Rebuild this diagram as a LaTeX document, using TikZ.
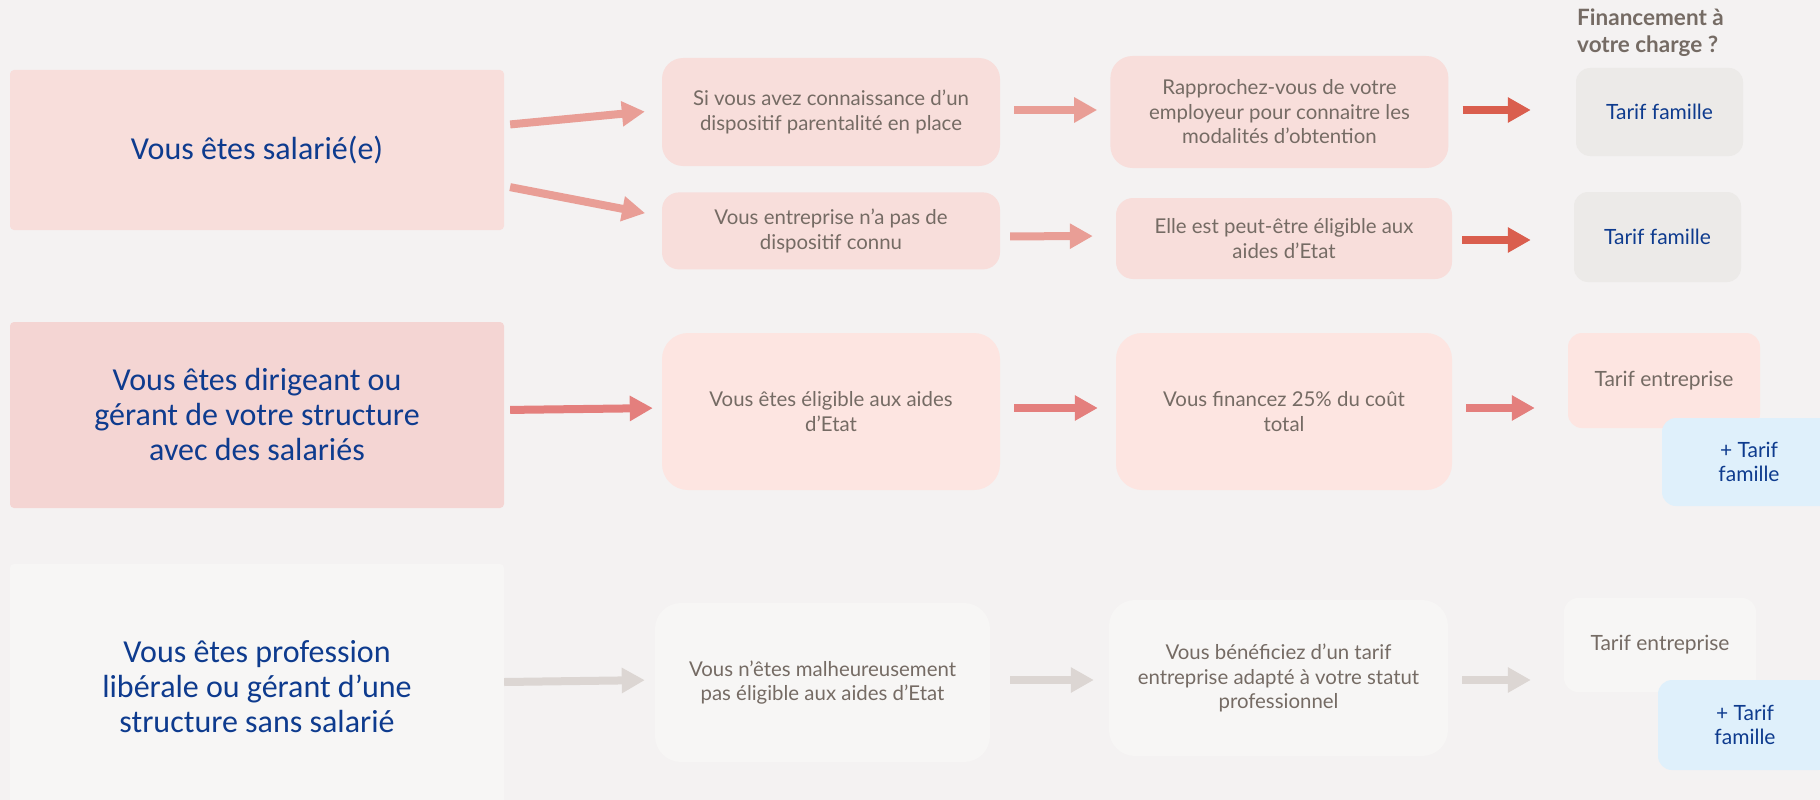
\documentclass[tikz,border=0pt]{standalone}
\usepackage{fontspec}
\setmainfont{Lato}
\newfontfamily\calibri{Carlito}
\usetikzlibrary{arrows.meta,positioning}

\definecolor{fond}{HTML}{F4F2F2}
\definecolor{roseA}{HTML}{F8DEDB}
\definecolor{roseB}{HTML}{F4D5D3}
\definecolor{saumon}{HTML}{FDE5E1}
\definecolor{blanc}{HTML}{F7F6F5}
\definecolor{grisD}{HTML}{ECEAE8}
\definecolor{bleuC}{HTML}{DFF0FB}
\definecolor{bleuT}{HTML}{0E3B8E}
\definecolor{grisT}{HTML}{756B64}
\definecolor{flecheA}{HTML}{E99E96}
\definecolor{flecheB}{HTML}{DA5E4E}
\definecolor{flecheC}{HTML}{E47F7D}
\definecolor{flecheD}{HTML}{DCD6D3}

\begin{document}
\begin{tikzpicture}[
    x=1pt, y=-1pt,
    % styles communs
    statut/.style={rectangle, rounded corners=4pt, minimum width=494pt, inner sep=0pt, align=center, text=bleuT, font=\calibri\fontsize{32}{35}\selectfont},
    etape/.style={rectangle, minimum width=338pt, inner sep=0pt, align=center, text=grisT, font=\fontsize{20.4}{24.5}\selectfont},
    tarif/.style={rectangle, rounded corners=14pt, inner sep=0pt, align=center, font=\fontsize{21}{24.5}\selectfont},
    fleche/.style={line width=8pt, -{Triangle[length=23pt,width=24pt]}}
]
    % fond de la diapositive
    \fill[fond] (0,0) rectangle (1820,800);
    \useasboundingbox (0,0) rectangle (1820,800);

    % --- 1. Statuts (colonne de gauche) ---
    \node[statut, fill=roseA, minimum height=160pt] (salarie) at (257,150) {Vous êtes salarié(e)};
    \node[statut, fill=roseB, minimum height=186pt] (dirigeant) at (257,415) {Vous êtes dirigeant ou\\gérant de votre structure\\avec des salariés};
    \node[statut, fill=blanc, minimum height=246pt] (liberal) at (257,687) {Vous êtes profession\\libérale ou gérant d’une\\structure sans salarié};

    % --- 2. Étapes ---
    % salarié(e)
    \node[etape, fill=roseA, rounded corners=21pt, minimum height=108pt] (connu) at (831,112) {Si vous avez connaissance d’un\\dispositif parentalité en place};
    \node[etape, fill=roseA, rounded corners=17pt, minimum height=77pt, below=26pt of connu] (inconnu) {Vous entreprise n’a pas de\\dispositif connu};
    \node[etape, fill=roseA, rounded corners=22pt, minimum height=112pt, right=110pt of connu] (employeur) {Rapprochez-vous de votre\\employeur pour connaitre les\\modalités d’obtention};
    \node[etape, fill=roseA, rounded corners=17pt, minimum width=336pt, minimum height=81pt] (eligible) at (1284,238.5) {Elle est peut-être éligible aux\\aides d’Etat};

    % dirigeant
    \node[etape, fill=saumon, rounded corners=26pt, minimum height=157pt] (aides) at (831,411.5) {Vous êtes éligible aux aides\\d’Etat};
    \node[etape, fill=saumon, rounded corners=26pt, minimum width=336pt, minimum height=157pt] (cout) at (1284,411.5) {Vous financez 25\% du coût\\total};

    % profession libérale
    \node[etape, fill=blanc, rounded corners=26pt, minimum width=335pt, minimum height=159pt] (pasaides) at (822.5,682.5) {Vous n’êtes malheureusement\\pas éligible aux aides d’Etat};
    \node[etape, fill=blanc, rounded corners=26pt, minimum width=339pt, minimum height=156pt] (statutpro) at (1278.5,678) {Vous bénéficiez d’un tarif\\entreprise adapté à votre statut\\professionnel};

    % --- 3. Financement ---
    \node[anchor=north west, align=left, inner sep=0pt, text=grisT, font=\bfseries\fontsize{22.5}{27}\selectfont] (titre) at (1577,9) {Financement à\\votre charge ?};

    \node[tarif, fill=grisD, text=bleuT, minimum width=167pt, minimum height=88pt] (famille1) at (1659.5,112) {Tarif famille};
    \node[tarif, fill=grisD, text=bleuT, minimum width=167pt, minimum height=90pt] (famille2) at (1657.5,237) {Tarif famille};
    \node[tarif, fill=saumon, text=grisT, minimum width=192pt, minimum height=95pt] (entreprise1) at (1664,380.5) {Tarif entreprise};
    \node[tarif, fill=bleuC, text=bleuT, minimum width=174pt, minimum height=88pt] (plus1) at (1749,462) {+ Tarif\\famille};
    \node[tarif, fill=blanc, text=grisT, minimum width=192pt, minimum height=94pt] (entreprise2) at (1660,645) {Tarif entreprise};
    \node[tarif, fill=bleuC, text=bleuT, minimum width=174pt, minimum height=90pt] (plus2) at (1745,725) {+ Tarif\\famille};

    % --- 4. Flèches ---
    \draw[fleche, flecheA, shorten <=6pt, shorten >=17pt] ([yshift=25pt]salarie.east) -- ([yshift=2pt]connu.west);
    \draw[fleche, flecheA, shorten <=6pt, shorten >=17pt] ([yshift=-36pt]salarie.east) -- ([yshift=14.5pt]inconnu.west);
    \draw[fleche, flecheA, shorten <=14pt, shorten >=13pt] ([yshift=2pt]connu.east) -- ([yshift=2pt]employeur.west);
    \draw[fleche, flecheA, shorten <=10pt, shorten >=23pt] ([yshift=-5.5pt]inconnu.east) -- ([yshift=2.5pt]eligible.west);
    \draw[fleche, flecheB, shorten <=14pt, shorten >=45pt] ([yshift=2pt]employeur.east) -- ([yshift=2pt]famille1.west);
    \draw[fleche, flecheB, shorten <=10pt, shorten >=43pt] ([yshift=-1.5pt]eligible.east) -- ([yshift=-3pt]famille2.west);

    \draw[fleche, flecheC, shorten <=6pt, shorten >=9pt] ([yshift=5pt]dirigeant.east) -- ([yshift=3.5pt]aides.west);
    \draw[fleche, flecheC, shorten <=14pt, shorten >=18pt] ([yshift=3.5pt]aides.east) -- ([yshift=3.5pt]cout.west);
    \draw[fleche, flecheC, shorten <=14pt, shorten >=33pt] ([yshift=3.5pt]cout.east) -- ([yshift=-27.5pt]entreprise1.west);

    \draw[fleche, flecheD, shorten >=10pt] ([yshift=5pt]liberal.east) -- ([yshift=2.5pt]pasaides.west);
    \draw[fleche, flecheD, shorten <=20pt, shorten >=15pt] ([yshift=2.5pt]pasaides.east) -- ([yshift=-2pt]statutpro.west);
    \draw[fleche, flecheD, shorten <=14pt, shorten >=33pt] ([yshift=-2pt]statutpro.east) -- ([yshift=-35pt]entreprise2.west);

\end{tikzpicture}
\end{document}
